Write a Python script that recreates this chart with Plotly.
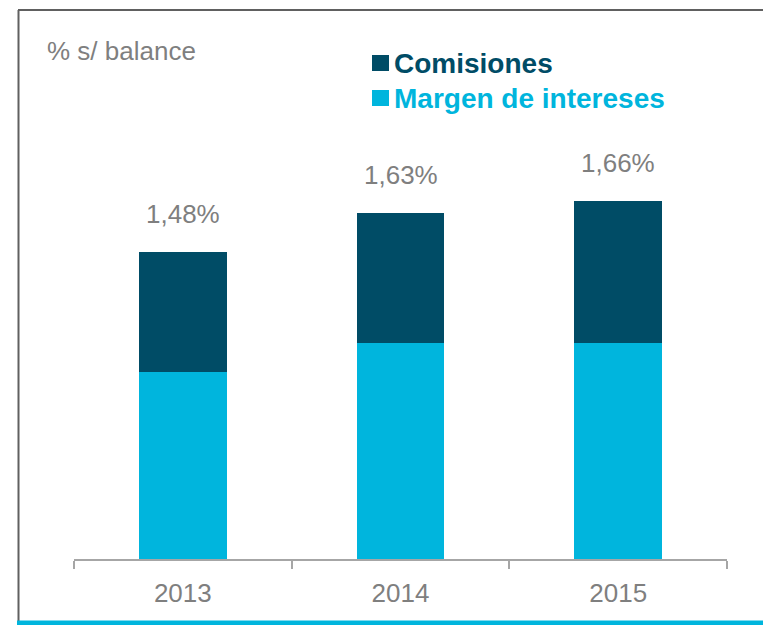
import plotly.graph_objects as go

# ---- data ----
years = ["2013", "2014", "2015"]
margen_intereses = [0.88, 1.02, 1.02]
comisiones = [0.57, 0.61, 0.67]
total_labels = ["1,48%", "1,63%", "1,66%"]
series_names = ["Comisiones", "Margen de intereses"]
unit_label = "% s/ balance"

DARK = "#004C66"
CYAN = "#00B5DD"
GREY = "#7F7F7F"
FONT = "Arial, Liberation Sans, sans-serif"

OFF = 8  # page body margin
W, H = 771 - OFF, 625 - OFF
# plot area in page pixels: x 74..727, y 135..559
L, R, T, B = 74 - OFF, W - (727 - OFF), 135 - OFF, H - (559 - OFF)
PW, PH = W - L - R, H - T - B


def px(x):
    return (x - OFF - L) / PW


def py(y):
    return (H - B - (y - OFF)) / PH


fig = go.Figure()
fig.add_trace(go.Bar(x=years, y=margen_intereses, name=series_names[1],
                     marker=dict(color=CYAN, line=dict(width=0)), showlegend=False,
                     hoverinfo="skip"))
fig.add_trace(go.Bar(x=years, y=comisiones, name=series_names[0],
                     marker=dict(color=DARK, line=dict(width=0)), showlegend=False,
                     hoverinfo="skip"))

annotations = []
for i, (m, c, lab) in enumerate(zip(margen_intereses, comisiones, total_labels)):
    annotations.append(dict(x=i, y=m + c, xref="x", yref="y", text=lab,
                            showarrow=False, yanchor="middle", yshift=38,
                            font=dict(family=FONT, size=26, color=GREY)))

annotations.append(dict(x=px(45), y=py(51), xref="paper", yref="paper",
                        text=unit_label, showarrow=False, xanchor="left",
                        yanchor="middle", font=dict(family=FONT, size=26, color=GREY)))

legend_rows = [(series_names[0], DARK, 63), (series_names[1], CYAN, 98)]
shapes = []
for name, col, cy in legend_rows:
    shapes.append(dict(type="rect", xref="paper", yref="paper",
                       x0=px(372), x1=px(389), y0=py(cy - 8), y1=py(cy + 8),
                       fillcolor=col, line=dict(width=0)))
    annotations.append(dict(x=px(392), y=py(cy), xref="paper", yref="paper",
                            text="<b>" + name + "</b>", showarrow=False,
                            xanchor="left", yanchor="middle",
                            font=dict(family=FONT, size=28, color=col)))

# frame
shapes.append(dict(type="line", xref="paper", yref="paper", x0=px(18), x1=px(775),
                   y0=py(10), y1=py(10), line=dict(color="#606060", width=2)))
shapes.append(dict(type="line", xref="paper", yref="paper", x0=px(18.5), x1=px(18.5),
                   y0=py(10), y1=py(621), line=dict(color="#606060", width=2)))
shapes.append(dict(type="rect", xref="paper", yref="paper", x0=px(17), x1=px(775),
                   y0=py(620.5), y1=py(626), fillcolor=CYAN, line=dict(width=0)))

fig.update_layout(
    width=W, height=H,
    margin=dict(l=L, r=R, t=T, b=B),
    paper_bgcolor="white", plot_bgcolor="white",
    barmode="stack", bargap=0.596,
    annotations=annotations, shapes=shapes,
    xaxis=dict(type="category", range=[-0.5, 2.5], showline=True,
               linecolor="#A6A6A6", linewidth=2, automargin=False,
               ticks="outside", tickson="boundaries", ticklen=8, tickwidth=2,
               tickcolor="#A6A6A6", showgrid=False, zeroline=False, tickangle=0,
               ticklabelstandoff=10,
               tickfont=dict(family=FONT, size=26, color=GREY)),
    yaxis=dict(range=[0, 2.0], visible=False, showgrid=False, zeroline=False),
)

fig.write_html("out.html")
